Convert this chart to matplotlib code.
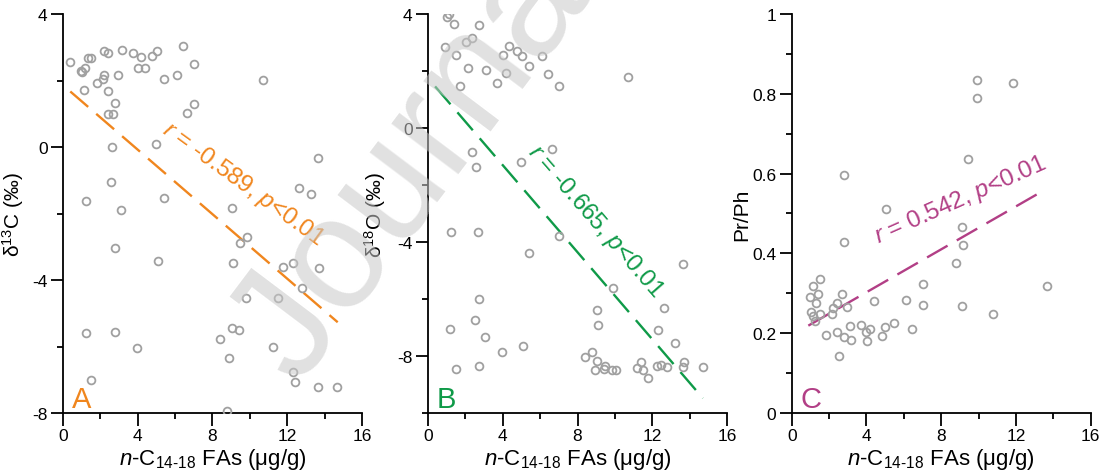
import numpy as np
import matplotlib
matplotlib.use("Agg")
import matplotlib.pyplot as plt
from matplotlib.ticker import MultipleLocator, FuncFormatter

plt.rcParams['font.family'] = ['Liberation Sans', 'DejaVu Sans']
plt.rcParams['mathtext.fontset'] = 'custom'
plt.rcParams['mathtext.rm'] = 'Liberation Sans'
plt.rcParams['mathtext.it'] = 'Liberation Sans:italic'
plt.rcParams['axes.unicode_minus'] = False

# n-C14-18 FAs vs d13C  (panel A)
a_x = [0.39, 0.95, 1.03, 1.19, 1.34, 1.50, 1.14, 1.80, 2.12, 2.19, 2.21, 2.39, 2.39, 2.78,
       2.43, 2.69, 2.94, 3.16, 3.73, 4.19, 4.01, 4.37, 4.78, 5.05, 5.42, 6.10, 6.42, 6.99,
       6.99, 6.63, 10.70, 2.60, 4.96, 2.57, 1.25, 3.09, 5.40, 9.06, 13.64, 12.61, 13.25,
       9.86, 9.47, 2.80, 5.10, 9.10, 11.77, 12.32, 13.70, 12.80, 11.49, 9.78, 1.21, 2.80,
       9.06, 9.42, 8.40, 3.96, 8.88, 11.25, 1.48, 12.31, 12.43, 13.64, 14.68, 8.77]
a_y = [2.57, 2.29, 2.25, 2.37, 2.67, 2.68, 1.72, 1.92, 2.05, 2.17, 2.88, 2.83, 1.69, 1.31,
       0.99, 1.00, 2.17, 2.91, 2.83, 2.70, 2.38, 2.38, 2.75, 2.88, 2.05, 2.17, 3.05, 2.49,
       1.29, 1.01, 2.02, 0.01, 0.09, -1.06, -1.62, -1.90, -1.54, -1.83, -0.34, -1.22, -1.41,
       -2.70, -2.89, -3.03, -3.44, -3.50, -3.62, -3.49, -3.65, -4.25, -4.53, -4.55, -5.60, -5.55,
       -5.44, -5.50, -5.77, -6.05, -6.35, -6.02, -7.00, -6.78, -7.08, -7.21, -7.21, -7.93]

# n-C14-18 FAs vs d18O  (panel B)
b_x = [1.13, 1.00, 1.40, 2.38, 2.02, 2.72, 0.93, 1.52, 2.15, 1.72, 3.13, 3.71, 4.17, 3.99,
       4.36, 4.78, 5.05, 5.42, 6.08, 6.44, 6.99, 10.72, 2.38, 2.59, 4.95, 6.62, 1.22, 2.65,
       7.02, 5.42, 13.65, 9.89, 2.72, 12.63, 9.05, 2.52, 9.10, 1.16, 12.31, 3.06, 13.24, 5.08,
       3.97, 8.75, 8.41, 9.07, 2.72, 1.49, 9.45, 9.41, 8.91, 9.86, 10.04, 11.38, 11.20, 11.52,
       11.79, 12.28, 12.47, 12.81, 13.69, 13.63, 14.71]
b_y = [4.00, 3.88, 3.65, 3.15, 3.01, 3.61, 2.85, 2.57, 2.12, 1.48, 2.04, 1.59, 1.94, 2.57,
       2.87, 2.69, 2.52, 2.19, 2.52, 1.91, 1.47, 1.78, -0.83, -1.37, -1.18, -0.74, -3.66, -3.66,
       -3.78, -4.40, -4.77, -5.60, -6.00, -6.30, -6.39, -6.72, -6.90, -7.05, -7.10, -7.32, -7.54,
       -7.65, -7.86, -7.86, -8.04, -8.18, -8.36, -8.46, -8.36, -8.47, -8.49, -8.48, -8.48, -8.21,
       -8.41, -8.48, -8.78, -8.34, -8.30, -8.40, -8.22, -8.40, -8.39]

# n-C14-18 FAs vs Pr/Ph  (panel C)
c_x = [9.90, 9.89, 11.82, 9.46, 2.82, 5.06, 9.10, 2.82, 9.15, 8.80, 1.52, 1.16, 7.01, 13.68,
       0.96, 1.43, 2.70, 1.29, 2.41, 4.38, 6.13, 1.02, 1.16, 1.52, 1.25, 2.23, 2.15, 2.97,
       7.03, 9.10, 10.76, 1.82, 2.41, 2.82, 3.18, 3.13, 3.73, 3.99, 4.20, 4.02, 4.81, 4.99,
       5.45, 6.45, 2.55]
c_y = [0.835, 0.789, 0.826, 0.637, 0.597, 0.512, 0.466, 0.429, 0.422, 0.375, 0.336, 0.318,
       0.323, 0.319, 0.291, 0.298, 0.298, 0.275, 0.275, 0.280, 0.283, 0.253, 0.244, 0.247,
       0.231, 0.262, 0.248, 0.265, 0.270, 0.267, 0.247, 0.195, 0.202, 0.191, 0.184, 0.217,
       0.221, 0.204, 0.210, 0.180, 0.192, 0.216, 0.225, 0.210, 0.143]

# regression lines: (x start, x end, slope, intercept)
a_fit = (0.39, 14.70, -0.485, 1.859)
b_fit = (0.38, 14.71, -0.7635, 1.750)
c_fit = (0.89, 13.41, 0.0269, 0.195)

a_lab = '$r$ = -0.589, $p$<0.01'
b_lab = '$r$ = -0.665, $p$<0.01'
c_lab = '$r$ = 0.542, $p$<0.01'

orange = '#f0861e'
green = '#0f9a48'
purple = '#b23f86'
grey = '#a0a0a0'

xlab = '$n$-C$_{\\text{14-18}}$ FAs (\u03bcg/g)'

fig = plt.figure(figsize=(11.09, 4.77), dpi=100)
lefts = [63, 428, 791.7]
axs = []
for l in lefts:
    axs.append(fig.add_axes([l / 1109, 1 - 414 / 477, 299 / 1109, 399 / 477]))


def style(ax, ylim, ymaj, ymin, ylabel, letter, col, fmt):
    ax.set_xlim(0, 16)
    ax.set_ylim(*ylim)
    ax.xaxis.set_major_locator(MultipleLocator(4))
    ax.xaxis.set_minor_locator(MultipleLocator(2))
    ax.yaxis.set_major_locator(MultipleLocator(ymaj))
    ax.yaxis.set_minor_locator(MultipleLocator(ymin))
    ax.yaxis.set_major_formatter(FuncFormatter(fmt))
    for s in ['top', 'right']:
        ax.spines[s].set_visible(False)
    for s in ['left', 'bottom']:
        ax.spines[s].set_linewidth(1.3)
    ax.tick_params(which='major', direction='out', length=9, width=1.3, labelsize=12.5, pad=2)
    ax.tick_params(which='minor', direction='out', length=4.5, width=1.3)
    ax.set_xlabel(xlab, fontsize=16, labelpad=2)
    ax.set_ylabel(ylabel, fontsize=15)
    ax.text(0.03, 0.0, letter, transform=ax.transAxes, color=col, fontsize=21,
            ha='left', va='bottom')


def scatter_fit(ax, xs, ys, fit, col):
    ax.plot(xs, ys, 'o', ms=5.6, mfc='none', mec=grey, mew=1.3, zorder=3)
    xx = np.array([fit[0], fit[1]])
    ax.plot(xx, fit[2] * xx + fit[3], color=col, lw=1.7, dashes=(10, 4.5), zorder=2)


scatter_fit(axs[0], a_x, a_y, a_fit, orange)
style(axs[0], (-8, 4), 4, 2, '\u03b4$^{13}$C (\u2030)', 'A', orange, lambda v, p: f'{v:g}')
axs[0].yaxis.set_label_coords(-0.125, 0.5)
axs[0].text(9.65, -1.1, a_lab, color=orange, fontsize=17.5, rotation=-36,
            ha='center', va='center', rotation_mode='anchor')

scatter_fit(axs[1], b_x, b_y, b_fit, green)
style(axs[1], (-10, 4), 4, 2, '\u03b4$^{18}$O (\u2030)', 'B', green, lambda v, p: f'{v:g}')
axs[1].yaxis.set_label_coords(-0.135, 0.5)
axs[1].text(8.95, -3.25, b_lab, color=green, fontsize=17.5, rotation=-49,
            ha='center', va='center', rotation_mode='anchor')

scatter_fit(axs[2], c_x, c_y, c_fit, purple)
style(axs[2], (0, 1), 0.2, 0.1, 'Pr/Ph', 'C', purple, lambda v, p: f'{v:g}')
axs[2].yaxis.set_label_coords(-0.135, 0.5)
axs[2].text(9.05, 0.535, c_lab, color=purple, fontsize=17.5, rotation=24,
            ha='center', va='center', rotation_mode='anchor')

# watermark
fig.text(422 / 1109, 1 - 152 / 477, 'Journal', rotation=53, fontsize=115,
         color='#c8c8c8', alpha=0.55, ha='center', va='center', zorder=10)

fig.savefig('out.png', dpi=100)
